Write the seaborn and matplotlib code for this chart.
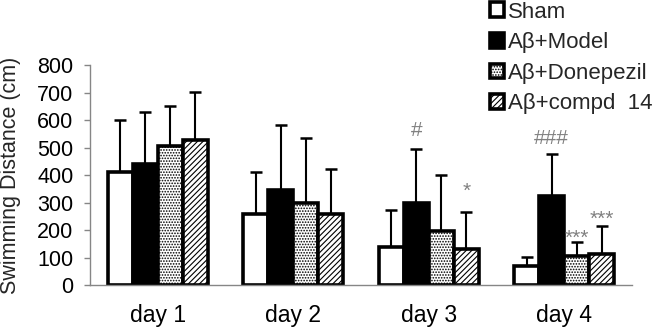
import seaborn as sns
import matplotlib.pyplot as plt
import pandas as pd
import numpy as np

# Data
days = ["day 1", "day 2", "day 3", "day 4"]
groups = ["Sham", "Aβ+Model", "Aβ+Donepezil", "Aβ+compd  14"]

sham_mean = [412, 258, 140, 68]
model_mean = [440, 346, 300, 322]
donepezil_mean = [507, 298, 198, 104]
compd_mean = [528, 259, 132, 113]

sham_sd = [188, 154, 133, 34]
model_sd = [190, 236, 195, 155]
donepezil_sd = [144, 238, 202, 54]
compd_sd = [173, 164, 133, 100]

# significance marks: text, day index, group index
sig_text = ["#", "*", "###", "***", "***"]
sig_day = [2, 2, 3, 3, 3]
sig_group = [1, 3, 1, 2, 3]
sig_offset = [13, 15, 11, 2, 5]  # points above the error bar top

sns.set_theme(style="white")
plt.rcParams['font.family'] = ['Liberation Sans', 'DejaVu Sans']
plt.rcParams['hatch.linewidth'] = 0.8

means = [sham_mean, model_mean, donepezil_mean, compd_mean]
sds = [sham_sd, model_sd, donepezil_sd, compd_sd]

df = pd.DataFrame({
    'day': np.tile(days, len(groups)),
    'group': np.repeat(groups, len(days)),
    'dist': np.concatenate(means),
})

fig = plt.figure(figsize=(6.54, 3.27), dpi=100)
ax = fig.add_axes([0.1376, 0.1284, 0.8288, 0.6728])

sns.barplot(
    data=df, x='day', y='dist', hue='group',
    order=days, hue_order=groups,
    palette=['white', 'black', 'white', 'white'],
    saturation=1, edgecolor='black', linewidth=2.6,
    width=0.74, errorbar=None, legend=False, ax=ax,
)

# dotted fill for Donepezil, diagonal lines for compd 14
hatches = [None, None, '......', '//////']
hatch_cols = [None, None, '#555555', 'black']
for cont, h, hc in zip(ax.containers, hatches, hatch_cols):
    for p in cont.patches:
        if h:
            p.set_hatch(h)
            if hasattr(p, 'set_hatchcolor'):
                p.set_hatchcolor(hc)

# upper error bars only
for cont, m, s in zip(ax.containers, means, sds):
    xs = [p.get_x() + p.get_width() / 2 for p in cont.patches]
    eb = ax.errorbar(xs, m, yerr=[np.zeros(len(s)), s], fmt='none',
                     ecolor='black', elinewidth=1.5, capsize=4, capthick=1.8,
                     zorder=3)
    eb[1][0].set_visible(False)

for t, d, g, off in zip(sig_text, sig_day, sig_group, sig_offset):
    p = ax.containers[g].patches[d]
    top = means[g][d] + sds[g][d]
    ax.annotate(t, xy=(p.get_x() + p.get_width() / 2, top),
                xytext=(0, off), textcoords='offset points',
                ha='center', va='center', fontsize=15, color='#808080',
                zorder=2)

ax.set_ylim(0, 800)
ax.set_xlim(-0.5, 3.5)
ax.set_yticks(range(0, 801, 100))
ax.set_xlabel("")
ax.set_ylabel("Swimming Distance (cm)", fontsize=15.5)
ax.yaxis.set_label_coords(-0.128, 0.5)

sns.despine(ax=ax)
for side in ['left', 'bottom']:
    ax.spines[side].set_color('#868686')
    ax.spines[side].set_linewidth(1.0)
ax.tick_params(axis='y', left=True, length=4, width=1, color='#868686',
               pad=8, labelsize=15.5, labelcolor='black')
ax.tick_params(axis='x', bottom=False, length=0, pad=14, labelsize=16.5,
               labelcolor='black')

fig.legend(handles=ax.containers, labels=groups, loc='upper left',
           bbox_to_anchor=(0.749, 0.995), frameon=False, fontsize=16,
           handlelength=0.65, handleheight=0.65, handletextpad=0.15,
           labelspacing=0.43, borderpad=0, borderaxespad=0)

fig.savefig("out.png", dpi=100)
